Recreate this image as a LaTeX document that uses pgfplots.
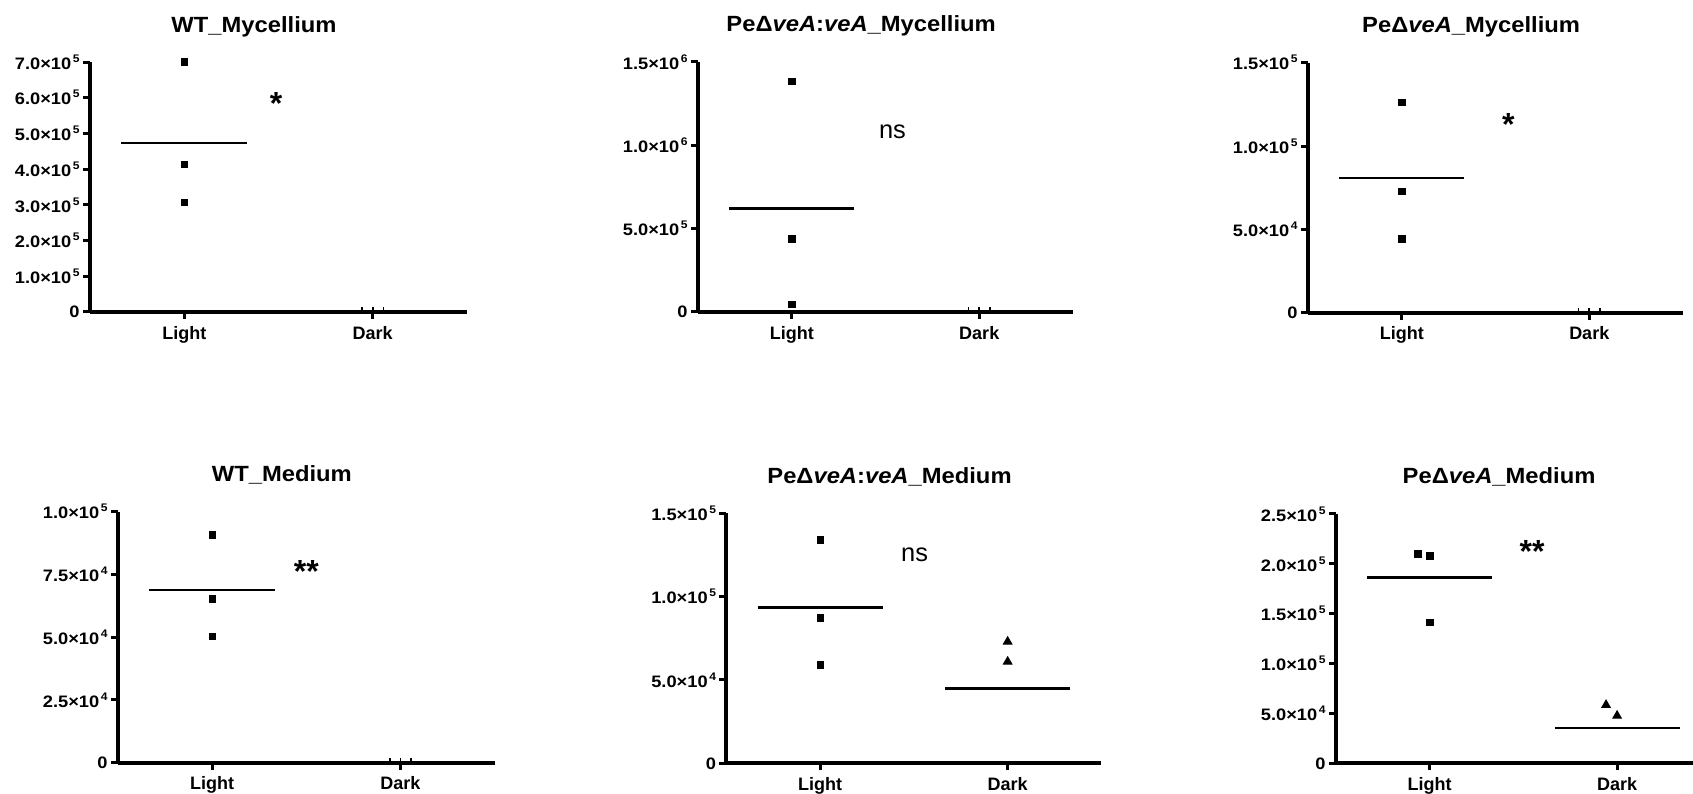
\documentclass[border=0pt]{standalone}
\usepackage{fontspec}
\setmainfont{Liberation Sans}
\newfontfamily\ytfont{Liberation Sans}[FakeStretch=1.1]
\newfontfamily\ttlfont{Liberation Sans}[FakeStretch=1.08]
\usepackage{pgfplots}
\pgfplotsset{compat=1.18}
\newcommand\sci[2]{#1×10\kern0.8pt\raisebox{3.5pt}{\fontsize{5.5}{6}\selectfont #2}}
\newcommand\sig{\bfseries\fontsize{16}{18}\selectfont}
\newcommand\nsf{\fontsize{12.7}{14}\selectfont}
\tikzset{ast/.style={anchor=center, yshift=-3.3pt}}
\pgfplotsset{
  every axis title/.style={at={(0.435,1)}, anchor=base, yshift=15pt},
  myax/.style={
    scale only axis, anchor=south west,
    axis x line*=bottom, axis y line*=left,
    axis line style={line width=2pt,-},
    xmin=-0.5, xmax=1.5, ymin=0,
    enlargelimits=false, clip=false,
    xtick={0,1}, xticklabels={Light,Dark},
    tick align=outside, major tick length=3.5pt,
    every tick/.style={black, line width=1.5pt},
    scaled y ticks=false,
    xticklabel style={font=\bfseries\fontsize{9}{10}\selectfont},
    yticklabel style={font=\ytfont\bfseries\fontsize{8.3}{9}\selectfont, inner sep=0pt, xshift=-1.5pt},
    title style={font=\ttlfont\bfseries\fontsize{11}{13}\selectfont},
  },
  sq/.style={only marks, mark=square*, mark size=1.6pt, black},
  tri/.style={only marks, mark=triangle*, mark size=2.5pt, black},
  mean/.style={no marks, black, line width=1.3pt},
  zero/.style={only marks, mark=|, mark size=1.2pt, black, mark options={yshift=1.2pt, line width=0.8pt}},
}
\begin{document}
\begin{tikzpicture}
\useasboundingbox (0,0) rectangle (846.5pt,396.5pt);
% Panel 1
\begin{axis}[myax, at={(45pt,240.5pt)}, width=188.5pt, height=125pt, ymax=7e5,
  ytick={0,1e5,2e5,3e5,4e5,5e5,6e5,7e5},
  yticklabels={0,\sci{1.0}{5},\sci{2.0}{5},\sci{3.0}{5},\sci{4.0}{5},\sci{5.0}{5},\sci{6.0}{5},\sci{7.0}{5}},
  title={WT\_Mycellium}]
\addplot[sq] coordinates {(0,7.0e5) (0,4.14e5) (0,3.07e5)};
\addplot[mean] coordinates {(-0.334,4.73e5) (0.334,4.73e5)};
\addplot[zero] coordinates {(0.943,0) (1,0) (1.057,0)};
\node[ast] at (axis cs:0.487,6.02e5) {\sig *};
\end{axis}
% Panel 2
\begin{axis}[myax, at={(349pt,240.5pt)}, width=187.5pt, height=125pt, ymax=1.5e6,
  ytick={0,5e5,1e6,1.5e6},
  yticklabels={0,\sci{5.0}{5},\sci{1.0}{6},\sci{1.5}{6}},
  title={PeΔ\textit{veA}:\textit{veA}\_Mycellium}]
\addplot[sq] coordinates {(0,1.384e6) (0,4.38e5) (0,4.6e4)};
\addplot[mean] coordinates {(-0.334,6.21e5) (0.334,6.21e5)};
\addplot[zero] coordinates {(0.943,0) (1,0) (1.057,0)};
\node[anchor=center] at (axis cs:0.537,1.084e6) {\nsf ns};
\end{axis}
% Panel 3
\begin{axis}[myax, at={(654pt,240.15pt)}, width=187.5pt, height=125pt, ymax=1.5e5,
  ytick={0,5e4,1e5,1.5e5},
  yticklabels={0,\sci{5.0}{4},\sci{1.0}{5},\sci{1.5}{5}},
  title={PeΔ\textit{veA}\_Mycellium}]
\addplot[sq] coordinates {(0,1.26e5) (0,7.26e4) (0,4.42e4)};
\addplot[mean] coordinates {(-0.334,8.07e4) (0.334,8.07e4)};
\addplot[zero] coordinates {(0.943,0) (1,0) (1.057,0)};
\node[ast] at (axis cs:0.568,1.166e5) {\sig *};
\end{axis}
% Panel 4
\begin{axis}[myax, at={(59pt,15.15pt)}, width=188.3pt, height=125.5pt, ymax=1e5,
  ytick={0,2.5e4,5e4,7.5e4,1e5},
  yticklabels={0,\sci{2.5}{4},\sci{5.0}{4},\sci{7.5}{4},\sci{1.0}{5}},
  title={WT\_Medium}]
\addplot[sq] coordinates {(0,9.07e4) (0,6.53e4) (0,5.04e4)};
\addplot[mean] coordinates {(-0.334,6.88e4) (0.334,6.88e4)};
\addplot[zero] coordinates {(0.943,0) (1,0) (1.057,0)};
\node[ast] at (axis cs:0.5,7.88e4) {\sig **};
\end{axis}
% Panel 5
\begin{axis}[myax, at={(363.2pt,14.85pt)}, width=187.5pt, height=125pt, ymax=1.5e5,
  ytick={0,5e4,1e5,1.5e5},
  yticklabels={0,\sci{5.0}{4},\sci{1.0}{5},\sci{1.5}{5}},
  title={PeΔ\textit{veA}:\textit{veA}\_Medium}]
\addplot[sq] coordinates {(0,1.34e5) (0,8.72e4) (0,5.9e4)};
\addplot[mean] coordinates {(-0.334,9.33e4) (0.334,9.33e4)};
\addplot[tri] coordinates {(1,7.3e4) (1,6.1e4)};
\addplot[mean] coordinates {(0.666,4.47e4) (1.334,4.47e4)};
\node[anchor=center] at (axis cs:0.504,1.25e5) {\nsf ns};
\end{axis}
% Panel 6
\begin{axis}[myax, at={(668pt,14.85pt)}, width=187.4pt, height=124.65pt, ymax=2.5e5,
  ytick={0,5e4,1e5,1.5e5,2e5,2.5e5},
  yticklabels={0,\sci{5.0}{4},\sci{1.0}{5},\sci{1.5}{5},\sci{2.0}{5},\sci{2.5}{5}},
  title={PeΔ\textit{veA}\_Medium}]
\addplot[sq] coordinates {(-0.062,2.10e5) (0,2.08e5) (0,1.414e5)};
\addplot[mean] coordinates {(-0.334,1.863e5) (0.334,1.863e5)};
\addplot[tri] coordinates {(0.941,5.85e4) (1,4.77e4)};
\addplot[mean] coordinates {(0.666,3.54e4) (1.334,3.54e4)};
\node[ast] at (axis cs:0.546,2.19e5) {\sig **};
\end{axis}
\end{tikzpicture}
\end{document}
